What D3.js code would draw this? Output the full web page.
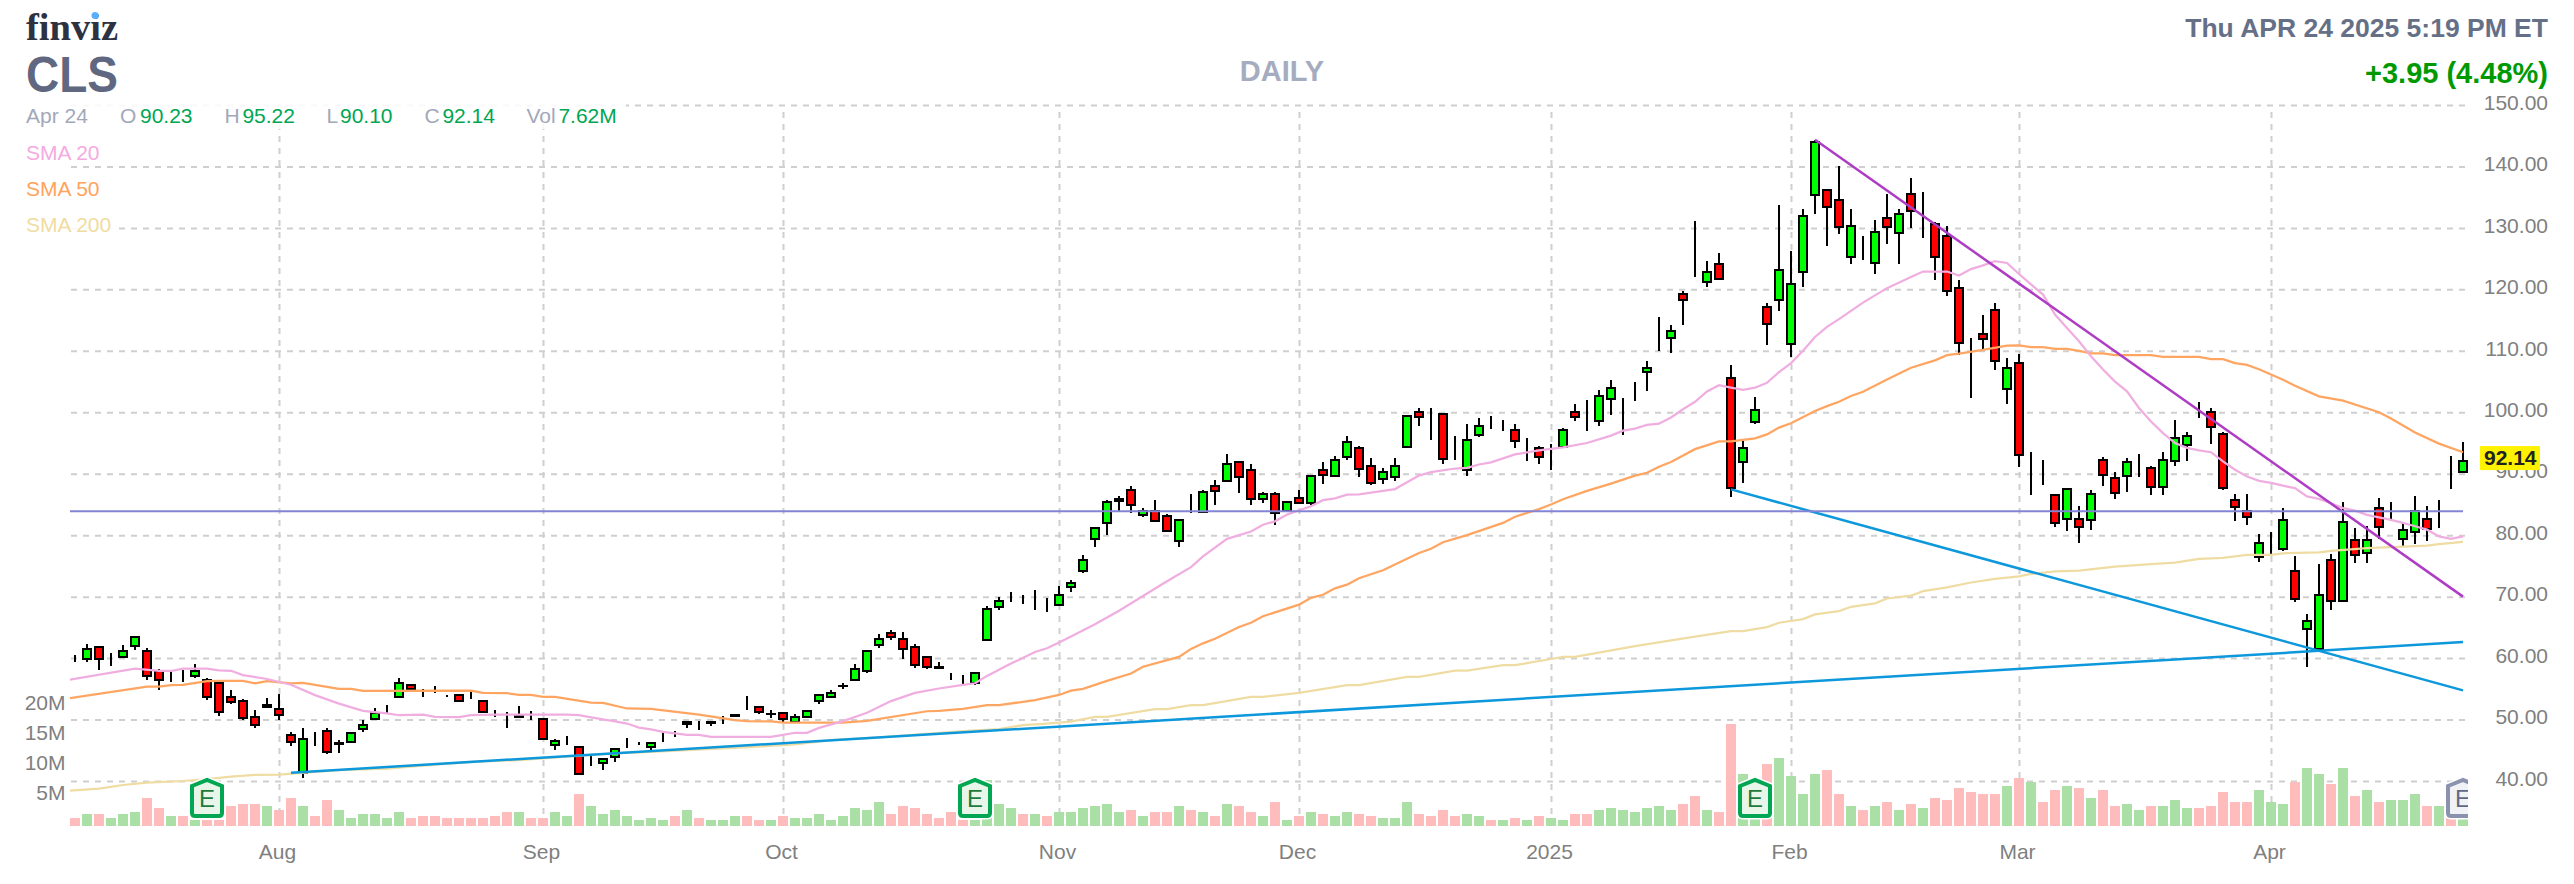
<!DOCTYPE html>
<html>
<head>
<meta charset="utf-8">
<title>CLS daily</title>
<script src="https://cdn.jsdelivr.net/npm/d3@7"></script>
<style>
  html, body { margin: 0; padding: 0; background: #fff; }
  svg { display: block; }
  text { font-family: "Liberation Sans", Arial, sans-serif; }
</style>
</head>
<body>
<div id="chart"></div>
<script>
// daily candles, oldest first (Jul 9 2024 .. Apr 24 2025)
const opens = [
  59.5,59.9,61.85,59.5,60.1,62,61.2,57.9,56.5,57.2,
  57.1,56.4,56,53.7,53,50.4,52,51.7,47.5,41.3,
  47.2,48.2,46,46.4,48.4,50.1,52.4,53.6,55.7,54.4,
  54.4,54,54,53.4,53,50.45,50.2,50.7,51.05,50.1,
  45.8,45.8,45.6,42.6,42.85,43.95,45.6,45.95,45.5,47.2,
  47.2,49.3,49.15,49.4,50.3,50.6,52.4,52,50.85,51.05,
  49.65,50.4,52.95,53.65,55.4,56.5,57.9,62.1,64.1,63.1,
  61.85,60.15,58.4,57.1,56.3,56,63,68.3,70.25,70.25,
  70,68.85,68.6,71.6,74.2,79.4,82,85.5,87.3,83.35,
  84,83.1,79.05,84.3,83.85,88,88.8,91.85,90.55,85.95,
  86.65,83.95,86,85.2,90.55,89.7,92.75,94.15,91.2,89.2,
  89.5,94.35,100,98,99.65,93.4,90.55,96.3,98,98.1,
  97.1,93.75,94.15,93.1,94.4,100,98.9,98.65,102.2,100.4,
  103.1,106.55,110.3,112.1,119.3,123.7,121.2,124.2,105.65,91.9,
  98.4,117.05,118.3,111.05,122.85,135.4,136.1,134.5,125.3,126.95,
  124.3,131.6,129.15,135.45,131.5,130.6,128.65,120.15,106.6,112.7,
  116.6,103.85,108,90.15,91.2,86.6,82.7,82.7,82.4,92.2,
  89.25,89.55,91.7,90.9,87.85,92.05,94.65,100.25,100,96.4,
  85.65,84,76.45,79.1,77.75,74.25,64.8,61.5,75.9,69.3,
  79.15,77.1,84.35,82.8,79.35,80.45,82.7,82.55,88.4,90.23
];
const highs = [
  60.5,62.3,61.85,60.9,62.2,63.5,61.6,58.3,57.9,58.05,
  59,56.7,56.15,54.8,53.3,51.5,53.5,54.1,48,48.6,
  48,48.55,46.65,47.8,49.9,51.8,52.4,56.7,55.7,55.05,
  55.4,54,54,54.8,53,51.5,51.15,52.2,51.4,50.1,
  46.9,47.3,45.6,44.2,43.6,45.2,47,46.4,46.3,48,
  48.2,49.65,49.8,49.65,50.6,50.8,53.8,52,51.5,51.05,
  50.85,51.4,54,54.8,56,59,61.15,63.85,64.5,64.2,
  62.3,60.15,59.3,57.6,57.3,57.55,68.4,70,70.7,70.25,
  71,69.7,71.7,72.7,76.7,81.1,85.7,86.4,88.05,84.4,
  85.8,83.45,82.4,86.75,87.4,89.05,93.25,91.85,91.6,87,
  87,85.35,87.4,89.6,91.9,92.9,96.2,94.5,92.55,90.9,
  92.55,99.35,100.7,100.7,99.65,96.2,98.15,99.1,99.45,98.8,
  98.1,95.8,94.5,94.85,97.45,101.4,102.05,103.7,105.3,102.3,
  104.9,108.3,115.45,114.15,119.75,131.15,124.65,125.9,107.65,95.35,
  102.45,117.75,133.7,126.25,133.05,144.35,136.1,140.1,133,128.75,
  131.35,135.55,133,138.15,135.9,130.95,130.25,121.6,112.15,115.75,
  117.7,108.9,109.5,93.5,92.2,86.6,87.55,84.7,87.3,92.8,
  90.25,92.55,93.25,91.3,93.5,98.8,96.85,101.7,100.7,96.8,
  86.7,86.7,80.2,80.55,84.4,76.65,67.2,75.35,77,85.4,
  81.15,81.5,86,85.4,82.1,86.35,84.75,85.7,92.9,95.22
];
const lows = [
  59.4,59.4,58.05,58.75,60.1,61.3,56.4,54.8,56.15,56.15,
  56.8,53.2,50.6,52.5,50,48.7,52,49.9,45.7,40.5,
  45.7,44.4,44.5,46.4,48,50.1,51,53.6,54.5,53.6,
  54.25,53.6,52.95,53.3,51.3,50.35,48.7,50.35,50,46.8,
  45,45.8,40.9,42.5,41.8,43.1,45.4,45.85,44.9,46.4,
  47.1,48.7,48.3,48.95,49.25,50.4,51.55,50.9,50.3,49.5,
  49.4,50.4,52.5,53.6,54.9,56.25,57.5,61.7,63,59.8,
  58.4,58.15,58.15,56.5,55.8,55.55,62.7,67.9,69.2,68.8,
  67.9,67.55,68.6,70.8,73.85,78,80,83.9,83.6,82.95,
  82.3,80.7,78,83.6,83.6,84.9,88.8,86.8,84.9,85.25,
  81.6,83.95,85.1,84.9,88.4,89.4,92.3,89.4,88.1,88.4,
  88.75,94.35,97.8,95.55,91.65,92.3,89.7,96,97.2,96.9,
  94.25,92,91.65,90.65,94.4,98.5,96.9,97.8,99.5,96.25,
  101.8,103.5,110,109.7,114.2,122,120.45,121.5,86.25,88.55,
  98.05,111,116.55,109.05,120.45,132.3,127.1,129.05,124.2,124.85,
  122.55,127.45,124.2,130.05,128.4,121.6,119,109.25,102.4,110.2,
  106.95,101.4,91.1,86.5,88.1,81.3,80.6,78.7,80.9,88.05,
  85.9,87.1,89.4,86.5,86.5,91.3,92,99.1,94.9,87.4,
  82.25,81.6,75.7,76.7,77.35,69.2,58.5,61.5,67.9,69.3,
  75.4,75.4,79.35,82.25,78,78.6,79,81.25,87.45,90.1
];
const closes = [
  59.5,61.5,59.9,59.5,61.2,63.5,57.1,56.5,56.5,57.2,
  57.9,53.6,51.3,52.9,50.3,49.1,52.4,50.7,46.4,46.8,
  47.2,44.8,46.2,47.8,49.1,51.05,52.4,56,54.9,54.4,
  54.4,54,52.95,53.4,51.3,50.45,50.2,50.4,51.05,46.8,
  46.55,45.8,41.2,42.6,43.6,45.2,45.6,45.95,46.2,47.2,
  47.2,49.65,49.15,49.65,50.3,50.8,52.4,51.3,50.95,50.1,
  50.4,51.4,54,54.3,55.5,58.2,61.15,63.1,63.4,61.5,
  58.9,58.5,58.5,57.1,56.3,57.55,68,69.35,70.25,70.25,
  70,68.85,70.25,72.2,75.9,81.1,85.35,85.9,84.9,83.95,
  82.3,80.7,82.4,84.3,87,87.2,91.55,89.5,85.95,86.65,
  83.6,85.35,85.25,89.6,89.8,92.2,95.1,90.8,88.5,90.2,
  91.2,99.35,99.25,98,92.4,93.4,95.45,97.7,98,98.1,
  95.35,93.75,92.7,93.1,97.1,99.25,98.9,102.6,103.9,100.4,
  103.1,107.25,110.3,113.15,118.3,123.7,122.85,121.75,87.6,94.25,
  100.45,114.3,123.2,120.95,132,143.9,133.4,130.15,130.25,126.95,
  129.3,130.15,132.2,132.75,131.5,125.3,119.75,111.35,106.6,111.95,
  108.4,107.15,93.1,90.15,91.2,82,87.55,81.3,86.65,89.8,
  86.85,91.85,91.7,87.85,92.2,95.75,96.1,100.25,97.6,87.75,
  84.6,82.95,78.8,79.1,82.4,69.6,66.1,70.3,69.3,82.1,
  76.8,79.15,81.3,82.8,80.8,84,81,82.55,88.4,92.14
];
// volume in millions
const volumes = [
  1.33,2,2,1.33,2,2.33,4.67,3,1.67,1.67,
  1,1,1,3.33,3.67,3.67,3.33,2.67,4.67,3.33,
  1.67,4.33,2.67,1.33,2,2,1.33,2.33,1.33,1.67,
  1.67,1.33,1.33,1.33,1.33,1.67,2.33,2.33,1.33,1.33,
  2.33,1.67,5.33,3.33,2,2.67,1.67,1,1.33,1,
  1.67,2.67,1.33,1,1,1.67,1.67,1,1,1.67,
  1.33,1.33,2,1,1.67,3,2.67,4,2,3.33,
  3,2,1.33,2.33,1,1,7.67,3.67,3,2,
  2,1.67,2.33,2.33,3,3.33,3.67,2.33,2.67,1.67,
  2.33,2.33,3.33,2.67,2.33,1.67,3.67,3.33,2.33,1.67,
  4,1,1.67,2.33,2,1.67,2.33,2,1.67,1.33,
  1.33,4,2,1.67,2.67,1.67,2,1.67,1,1,
  1.33,1,1.67,1.33,1,2,2,2.67,3,2.67,
  2.33,3,3.33,2.67,3.67,5,2.67,2.33,17,8.67,
  4.5,10.33,11.33,8.33,5.33,8.67,9.33,5.33,3.33,2.67,
  3.33,4,2.67,3.67,3,4.67,4.33,6.33,5.67,5.33,
  5.33,6.67,8,7.33,4,6,6.67,6.33,4.67,6,
  3.33,3.67,2.67,3.33,3.33,4.33,3,3,3.33,5.67,
  4,4,6,4,3.67,7.33,9.67,8.67,7,9.67,
  5,6,4,4.33,4.33,5.33,3.33,3.33,4,7.62
];
// g = green bar, p = pink bar
const volumeTint = (
  'pgpgggppgp' + 'gpppppgppg' + 'ppggggggpp' + 'pppppppgpp' +
  'ggpggggggg' + 'pgpgggppgp' + 'ggggggggpp' + 'pppppggggp' +
  'gpggggggpg' + 'ppgpgpgppg' + 'pgpgpggppg' + 'ggppppggpg' +
  'pgpggppggg' + 'ggggppgppg' + 'gpggggppgp' + 'gpgpgppppp' +
  'pgpgppgpgp' + 'pggpgggppp' + 'ppgggpggpg' + 'pgpgggpgpg'
).split('');

// moving averages, as bar index / price pairs
const sma20Days = [-1,5,7,8,9,11,12,13,14,16,18,20,22,24,26,27,29,30,32,33,35,38,41,42,43,45,46,47,48,49,51,52,53,58,59,60,61,62,64,66,68,70,72,74,75,76,78,80,81,82,83,85,87,89,91,93,94,96,98,99,100,101,102,103,104,105,106,107,110,111,112,113,115,116,117,118,120,122,124,126,128,129,130,131,132,133,134,135,136,137,138,139,140,141,142,143,144,145,146,147,149,151,153,154,156,157,158,159,160,161,162,163,164,165,166,167,168,169,170,171,172,173,174,175,176,177,178,179,180,181,182,183,184,185,186,187,188,189,190,191,192,193,194,195,196,197,198,199];
const sma20Values = [56.3,58.27,57.94,57.9,58.27,58.27,58,57.94,57.24,56.6,55.66,53.98,52.6,51.4,51,50.7,50.8,50.45,50.4,50.7,50.8,50.8,50.8,50.7,50.35,49.7,49.35,48.7,48.4,48,47.5,47.5,47.2,47.2,47.5,47.85,47.85,48.65,49.75,51.1,53,54.35,55.05,55.65,55.9,57.1,59.1,61,61.6,62.55,63.5,65.5,67.7,70.1,72.5,74.8,76.55,79.4,80.6,81.7,82.25,83.35,84.05,84.7,85.7,86,86.6,86.65,87.5,88.6,89.7,90.25,90.85,90.95,91.5,91.85,93.15,93.8,94.3,95,96.2,97,97.35,97.95,98.15,99.15,100.5,101.7,103.4,104.4,104,103.65,104,104.8,106.55,108,110,112.25,113.9,115.15,117.85,120.2,122,122.9,122.9,122.25,123.3,123.9,124.6,124.3,122.5,120.8,119.15,115.9,113.7,111.55,109.1,106.95,105,103.4,100.7,98.5,96.6,95,94.2,93.8,93.5,92,90.65,89.55,88.85,88.5,88.05,87.65,86.3,85.9,85.2,84.4,84,83.3,82.9,82.5,82,81.45,80.9,79.8,79.4,79.8];
const sma50Days = [-1,6,7,8,9,11,12,14,15,16,18,19,22,23,24,33,34,36,37,38,39,40,43,44,46,48,52,55,56,58,59,64,66,71,72,74,76,77,80,82,83,84,86,88,89,92,93,94,95,97,98,99,102,103,104,105,106,107,109,112,113,114,116,119,120,122,123,124,126,128,130,131,132,133,135,137,138,140,141,142,143,145,146,147,148,149,151,153,155,156,157,159,161,162,163,164,165,166,167,168,169,170,173,174,177,178,179,180,181,182,184,185,187,189,192,193,195,197,199];
const sma50Values = [53.3,55.35,55.35,55.6,55.65,56.25,56.3,56.3,55.9,56.25,55.9,55.95,55,55,54.65,54.7,54.35,54.3,54,54,53.7,53.7,52.75,52.7,51.8,51.75,50.8,49.9,49.75,49.7,49.5,49.5,49.8,51.35,51.4,51.75,52.35,52.35,53.15,54,54.7,55,56.3,57.5,58.6,60.2,61.5,62.4,63.15,65.05,65.75,66.8,68.7,69.8,70.3,71.35,71.95,73,74.3,77.1,77.8,78.85,80,82,83,84.25,85,85.85,87.2,88.4,89.7,90.15,91.15,91.9,94,95.25,95.25,95.75,96.4,97.5,98.2,100.2,101,101.7,102.65,103.35,105.35,107.25,108.45,109.3,109.55,110.15,110.85,110.9,110.6,110.6,110.3,110.3,110,109.6,109.6,109.3,109.3,109,109,108.65,108.65,108,107.7,107,105.3,104.3,102.6,101.9,100,99,96.7,94.9,93.5];
const sma200Days = [-1,2,4,6,9,11,13,15,17,20,22,26,29,33,37,41,45,48,54,57,60,63,67,74,77,79,81,83,85,86,90,91,93,94,98,99,102,106,107,111,112,115,116,119,120,123,124,125,130,135,138,139,141,142,144,145,147,148,150,151,153,154,156,158,160,162,163,165,167,170,173,175,177,179,181,183,184,187,188,191,194,196,197,199];
const sma200Values = [38.35,38.75,39.35,39.75,40,40.3,40.7,41,41.05,41.5,41.75,42,42.5,43.1,43.4,43.95,44.5,44.75,45.3,45.6,45.95,46.65,47.1,48.1,48.45,49.1,49.35,49.65,50.45,50.45,51.7,51.7,52.35,52.35,53.7,53.7,54.35,55.6,55.6,56.95,56.95,57.95,57.95,58.85,58.85,59.85,60.2,60.2,61.95,63.5,64.4,64.4,65.05,65.75,66.35,67.1,67.65,68.35,68.9,69.7,70.15,70.9,71.5,72.3,72.9,73.3,73.7,74.1,74.25,74.9,75.3,75.55,76.15,76.3,76.8,76.8,77.05,77.2,77.45,77.9,78.15,78.3,78.55,78.9];

// drawn trend lines: start bar, start price, end bar, end price
const supportLine = [18, 41.34, 199, 62.6];
const wedgeLowLine = [138, 87.45, 199, 54.75];
const wedgeHighLine = [145, 144.35, 199, 70];
const flatLevel = 83.9;

const priceTicks = [150,140,130,120,110,100,90,80,70,60,50,40];
const volumeTicks = [5,10,15,20];
const monthBars = [17,39,59,82,102,123,143,162,183];
const monthLabels = ['Aug','Sep','Oct','Nov','Dec','2025','Feb','Mar','Apr'];
const earningsBars = [11,75,140];
const nextEarningsBar = 199;

const width = 2574;
const height = 884;
const plotLeft = 70;
const plotRight = 2465;

const svg = d3.select('#chart').append('svg')
  .attr('width', width)
  .attr('height', height);

const x = d3.scaleLinear().domain([0, 199]).range([75, 2463]);
const y = d3.scaleLinear().domain([40, 150]).range([781, 105]);
const yVol = d3.scaleLinear().domain([0, 17]).range([826, 724]);

svg.append('defs').append('clipPath').attr('id', 'plot-clip')
  .append('rect')
  .attr('x', plotLeft).attr('y', 90)
  .attr('width', 2468 - plotLeft).attr('height', 750);

// 网格
const gridY = svg.append('g')
  .attr('transform', `translate(${plotRight},0)`)
  .call(d3.axisLeft(y).tickValues(priceTicks).tickSize(plotRight - plotLeft).tickFormat(''));
const gridX = svg.append('g')
  .attr('transform', 'translate(0,826)')
  .call(d3.axisTop(x).tickValues(monthBars).tickSize(826 - 105).tickFormat(''));
[gridY, gridX].forEach(g => {
  g.select('.domain').remove();
  g.selectAll('line')
    .attr('stroke', '#cfcfcf')
    .attr('stroke-width', 2)
    .attr('stroke-dasharray', '6,6');
});

// 成交量
svg.append('g').selectAll('rect')
  .data(volumes)
  .enter()
  .append('rect')
  .attr('x', (d, i) => x(i) - 5)
  .attr('width', 10)
  .attr('y', d => yVol(d))
  .attr('height', d => yVol(0) - yVol(d))
  .attr('fill', (d, i) => (volumeTint[i] === 'g' ? '#aadfa6' : '#ffbcbc'));

// 蜡烛
const candleData = opens.map((o, i) => ({ i, o, h: highs[i], l: lows[i], c: closes[i] }));
const candles = svg.append('g').attr('shape-rendering', 'crispEdges');
candles.selectAll('line')
  .data(candleData)
  .enter()
  .append('line')
  .attr('x1', d => x(d.i))
  .attr('x2', d => x(d.i))
  .attr('y1', d => y(d.h))
  .attr('y2', d => y(d.l))
  .attr('stroke', '#000')
  .attr('stroke-width', 2);
candles.selectAll('rect')
  .data(candleData)
  .enter()
  .append('rect')
  .attr('x', d => x(d.i) - 4)
  .attr('width', 8)
  .attr('y', d => y(Math.max(d.o, d.c)))
  .attr('height', d => Math.abs(y(d.o) - y(d.c)))
  .attr('fill', d => (d.c > d.o ? '#00ff00' : d.c < d.o ? '#ff0000' : '#000'))
  .attr('stroke', '#000')
  .attr('stroke-width', 2);

// 均线
const smaLine = d3.line().x(d => x(d[0])).y(d => y(d[1]));
const smaGroup = svg.append('g').attr('clip-path', 'url(#plot-clip)').attr('fill', 'none').attr('stroke-width', 2.25);
[
  [sma200Days, sma200Values, '#efdca3'],
  [sma50Days, sma50Values, '#ffa562'],
  [sma20Days, sma20Values, '#f0aee0'],
].forEach(([days, values, color]) => {
  smaGroup.append('path')
    .attr('d', smaLine(days.map((d, i) => [d, values[i]])))
    .attr('stroke', color);
});

// 趋势线
const trendGroup = svg.append('g');
[
  [supportLine, '#0d98dc'],
  [wedgeLowLine, '#0d98dc'],
  [wedgeHighLine, '#ae3cc4'],
].forEach(([t, color]) => {
  trendGroup.append('line')
    .attr('x1', x(t[0])).attr('y1', y(t[1]))
    .attr('x2', x(t[2])).attr('y2', y(t[3]))
    .attr('stroke', color)
    .attr('stroke-width', 2.5);
});
trendGroup.append('line')
  .attr('x1', plotLeft).attr('x2', x(199))
  .attr('y1', y(flatLevel)).attr('y2', y(flatLevel))
  .attr('stroke', '#8484d4')
  .attr('stroke-width', 2);

// 财报标记
const markerPath = 'M-15,-12 L0,-18 L15,-12 L15,15 Q15,18 12,18 L-12,18 Q-15,18 -15,15 Z';
function drawMarker(bar, stroke, fill, ink) {
  const g = svg.append('g')
    .attr('clip-path', 'url(#plot-clip)')
    .append('g')
    .attr('transform', `translate(${x(bar)},798)`);
  g.append('path').attr('d', markerPath).attr('fill', 'none').attr('stroke', '#fff').attr('stroke-width', 7);
  g.append('path').attr('d', markerPath).attr('fill', fill).attr('stroke', stroke).attr('stroke-width', 4);
  g.append('text')
    .attr('text-anchor', 'middle')
    .attr('y', 9)
    .attr('font-size', 24)
    .attr('fill', ink)
    .text('E');
}
earningsBars.forEach(b => drawMarker(b, '#00a651', '#e8f6ea', '#1f7a3d'));
drawMarker(nextEarningsBar, '#8a92ad', '#f1f2f6', '#5f6a88');

// 坐标轴文字
const priceAxis = svg.append('g')
  .attr('transform', 'translate(2548,-2.5)')
  .call(d3.axisLeft(y).tickValues(priceTicks).tickSize(0).tickPadding(0).tickFormat(d3.format('.2f')));
const volumeAxis = svg.append('g')
  .attr('transform', 'translate(65.5,-3)')
  .call(d3.axisLeft(yVol).tickValues(volumeTicks).tickSize(0).tickPadding(0).tickFormat(d => `${d}M`));
const monthAxis = svg.append('g')
  .attr('transform', 'translate(-2,844)')
  .call(d3.axisBottom(x).tickValues(monthBars).tickSize(0).tickPadding(0).tickFormat((d, i) => monthLabels[i]));
[priceAxis, volumeAxis, monthAxis].forEach(g => {
  g.select('.domain').remove();
  g.selectAll('text')
    .attr('font-size', 21)
    .attr('fill', '#808080');
});

// 最新价
const lastY = y(closes[199]);
svg.append('rect')
  .attr('x', 2480).attr('y', lastY - 14.5)
  .attr('width', 60).attr('height', 24)
  .attr('fill', '#fff200');
svg.append('text')
  .attr('x', 2484).attr('y', lastY - 2.5)
  .attr('dy', '.35em')
  .attr('font-size', 21)
  .attr('font-weight', 700)
  .attr('fill', '#222')
  .text(closes[199].toFixed(2));

// 图例底色
svg.append('rect').attr('x', 0).attr('y', 104).attr('width', 626).attr('height', 25).attr('fill', '#fff').attr('opacity', 0.85);
[[142, 112], [178, 112], [214, 118]].forEach(([top, w]) => {
  svg.append('rect').attr('x', 0).attr('y', top).attr('width', w).attr('height', 24).attr('fill', '#fff').attr('opacity', 0.85);
});

function label(str, px, py, size, color, weight, anchor) {
  return svg.append('text')
    .attr('x', px)
    .attr('y', py)
    .attr('dy', '.35em')
    .attr('font-size', size)
    .attr('font-weight', weight || 400)
    .attr('text-anchor', anchor || 'start')
    .attr('fill', color)
    .text(str);
}

const legendGrey = '#a3a8b8';
const legendGreen = '#00a651';
label('Apr 24', 26, 116, 21, legendGrey);
[
  ['O', 120, opens[199].toFixed(2), 140],
  ['H', 224.5, highs[199].toFixed(2), 242.4],
  ['L', 326.5, lows[199].toFixed(2), 340],
  ['C', 424.5, closes[199].toFixed(2), 442.4],
  ['Vol', 526.5, `${volumes[199].toFixed(2)}M`, 558.4],
].forEach(([name, nx, val, vx]) => {
  label(name, nx, 116, 21, legendGrey);
  label(val, vx, 116, 21, legendGreen);
});
label('SMA 20', 26, 152.5, 21, '#f5aae0');
label('SMA 50', 26, 188.5, 21, '#ffa35c');
label('SMA 200', 26, 224.5, 21, '#f0dca0');

// 标题
label('finviz', 26, 27, 38, '#2e3140', 700)
  .style('font-family', '"Liberation Serif", serif')
  .attr('textLength', 92)
  .attr('lengthAdjust', 'spacingAndGlyphs');
svg.append('circle').attr('cx', 95).attr('cy', 15.5).attr('r', 3.5).attr('fill', '#5aaeff');
label('CLS', 26, 74, 50, '#5f6880', 700)
  .attr('textLength', 92)
  .attr('lengthAdjust', 'spacingAndGlyphs');
label('DAILY', 1282, 71, 29, '#a6acc0', 700, 'middle');
label('Thu APR 24 2025 5:19 PM ET', 2548, 28, 26.5, '#657087', 700, 'end');
label('+3.95 (4.48%)', 2548, 73, 29, '#009a00', 700, 'end');
</script>
</body>
</html>
